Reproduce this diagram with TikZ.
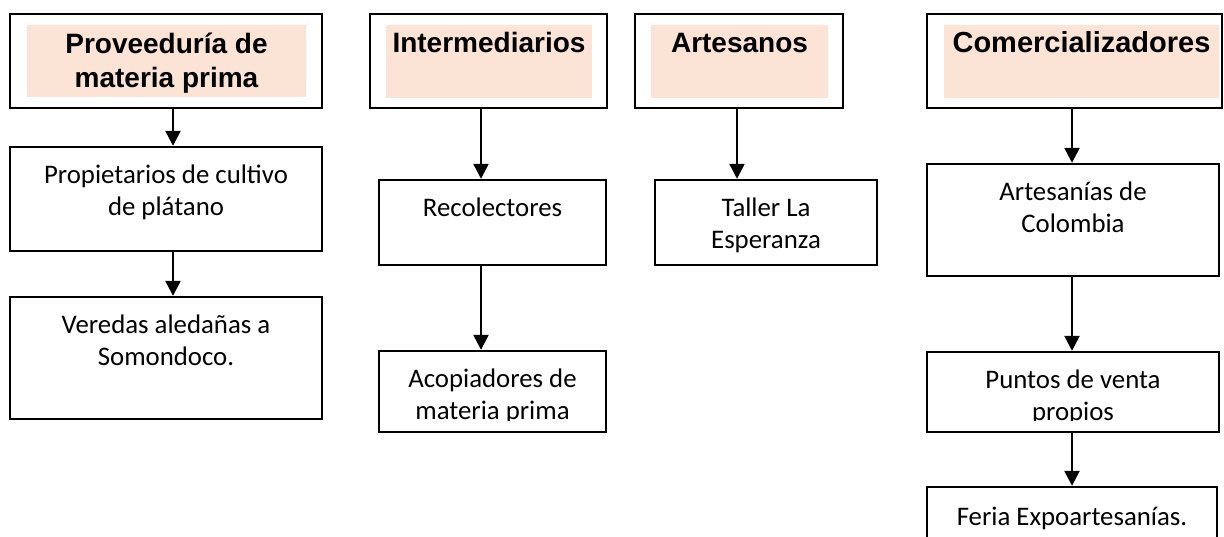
\documentclass[tikz,border=0pt]{standalone}
\usepackage{fontspec}
\setmainfont{Carlito}
\newfontfamily\headfont{Liberation Sans}
\usetikzlibrary{arrows.meta,positioning}
\definecolor{peach}{HTML}{FBE4D5}
\tikzset{
    headbox/.style = {draw, line width=1.2pt, fill=white, inner sep=0pt},
    headfill/.style = {fill=peach, inner sep=0pt},
    headtext/.style = {font=\headfont\bfseries\fontsize{14}{17}\selectfont, align=center, inner sep=0pt, anchor=base},
    bodybox/.style = {draw, line width=1.2pt, inner sep=0pt},
    bodytext/.style = {font=\fontsize{13.4}{16}\selectfont, align=center, inner sep=0pt, anchor=base},
    arr/.style = {-{Triangle[width=7.5pt, length=7.5pt]}, line width=1.2pt}
}
\begin{document}
\begin{tikzpicture}[x=0.5pt, y=-0.5pt]
        \useasboundingbox (0, 0) rectangle (1224, 536);
        \clip (0, 0) rectangle (1224, 536);
        \coordinate (c1) at (173, 0);
        \coordinate (c2) at (481, 0);
        \coordinate (c3) at (737, 0);
        \coordinate (c4) at (1072, 0);
        % headers (base = last line)
        \node [headbox, minimum width=156pt, minimum height=47pt] (prov) at (166, 61) {};
        \node [headfill, minimum width=139.5pt, minimum height=36pt] (provfill) at (166.5, 61) {};
        \node [headtext] (provtext) at ([yshift=-31.5pt]provfill.north) {Proveeduría de\\materia prima};
        \node [headbox, minimum width=118.5pt, minimum height=47pt] (inter) at (488.5, 61) {};
        \node [headfill, minimum width=103pt, minimum height=36.5pt] (interfill) at (489, 61.5) {};
        \node [headtext] (intertext) at ([yshift=-14pt]interfill.north) {Intermediarios};
        \node [headbox, minimum width=104pt, minimum height=47pt] (arte) at (739, 61) {};
        \node [headfill, minimum width=88.5pt, minimum height=36.5pt] (artefill) at (739.5, 61.5) {};
        \node [headtext] (artetext) at ([yshift=-14pt]artefill.north) {Artesanos};
        \node [headbox, minimum width=147.5pt, minimum height=47pt] (comer) at (1074.5, 61) {};
        \node [headfill, minimum width=137.5pt, minimum height=36.5pt] (comerfill) at (1081.5, 61.5) {};
        \node [headtext, font=\headfont\bfseries\fontsize{14.5}{17}\selectfont] (comertext) at ([yshift=-14pt]comerfill.north) {Comercializadores};
        % boxes
        \node [bodybox, minimum width=156pt, minimum height=52pt] (prop) at (166, 199) {};
        \node [bodytext] (proptext) at ([yshift=-35pt]prop.north) {Propietarios de cultivo\\de plátano};
        \node [bodybox, minimum width=156pt, minimum height=61pt] (vere) at (166, 358) {};
        \node [bodytext] (veretext) at ([yshift=-35pt]vere.north) {Veredas aledañas a\\Somondoco.};
        \node [bodybox, minimum width=113.5pt, minimum height=42.5pt] (reco) at (492.5, 222.5) {};
        \node [bodytext] (recotext) at ([yshift=-19pt]reco.north) {Recolectores};
        \node [bodybox, minimum width=113.5pt, minimum height=40.5pt] (acop) at (492.5, 391.5) {};
        \begin{scope}
            \clip (acop.north west) rectangle ([yshift=6.5pt]acop.south east);
            \node [bodytext] (acoptext) at ([yshift=-35pt]acop.north) {Acopiadores de\\materia prima};
        \end{scope}
        \node [bodybox, minimum width=111pt, minimum height=42.5pt] (tall) at (766, 222.5) {};
        \node [bodytext] (talltext) at ([yshift=-35pt]tall.north) {Taller La\\Esperanza};
        \node [bodybox, minimum width=146pt, minimum height=56pt] (artc) at (1073, 220) {};
        \node [bodytext] (artctext) at ([yshift=-35pt]artc.north) {Artesanías de\\Colombia};
        \node [bodybox, minimum width=146pt, minimum height=40pt] (punt) at (1073, 392) {};
        \begin{scope}
            \clip (punt.north west) rectangle ([yshift=6.5pt]punt.south east);
            \node [bodytext] (punttext) at ([yshift=-35pt]punt.north) {Puntos de venta\\propios};
        \end{scope}
        \node [bodybox, minimum width=145pt, minimum height=40pt] (feri) at (1072, 527) {};
        \node [bodytext] (feritext) at ([yshift=-20pt]feri.north) {Feria Expoartesanías.};
        % arrows
        \draw [arr] (prov.south -| c1) -- (prop.north -| c1);
        \draw [arr] (prop.south -| c1) -- (vere.north -| c1);
        \draw [arr] (inter.south -| c2) -- (reco.north -| c2);
        \draw [arr] (reco.south -| c2) -- (acop.north -| c2);
        \draw [arr] (arte.south -| c3) -- (tall.north -| c3);
        \draw [arr] (comer.south -| c4) -- (artc.north -| c4);
        \draw [arr] (artc.south -| c4) -- (punt.north -| c4);
        \draw [arr] (punt.south -| c4) -- (feri.north -| c4);
    \end{tikzpicture}
\end{document}
